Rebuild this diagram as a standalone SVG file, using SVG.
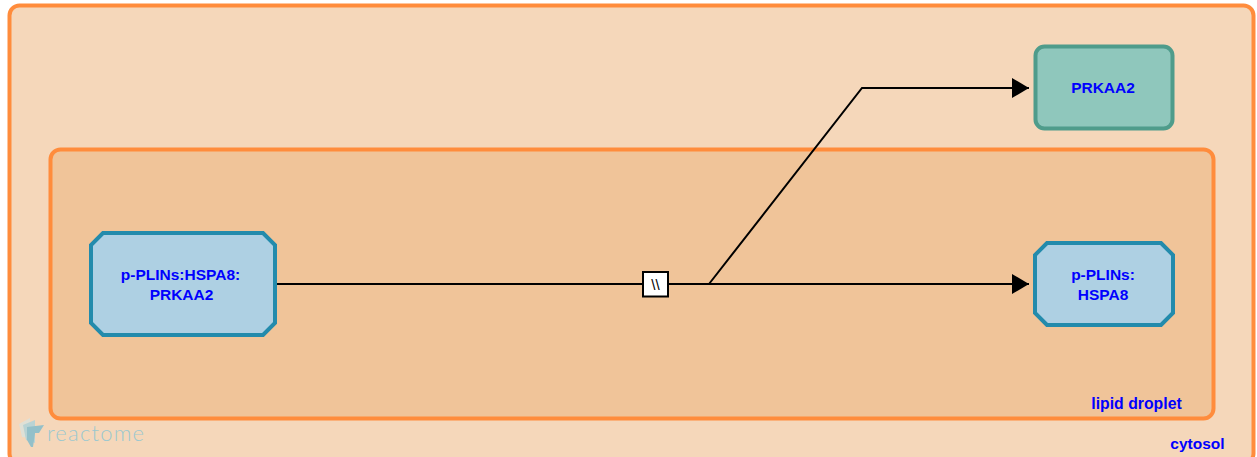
<svg xmlns="http://www.w3.org/2000/svg" width="1257" height="457" viewBox="0 0 1257 457">
<style>
text{font-family:"Liberation Sans",Arial,sans-serif;font-weight:700;font-size:15.5px;fill:#0000ff;text-anchor:middle}
.comp{stroke:#ff8c3c;stroke-width:4}
.cx{fill:#aed0e3;stroke:#238bac;stroke-width:4}
.conn{fill:none;stroke:#000;stroke-width:2}
</style>
<defs>
<marker id="arrow" markerUnits="userSpaceOnUse" markerWidth="18" markerHeight="20" refX="17" refY="10" orient="auto"><path d="M0 0L17 10L0 20Z" fill="#000"/></marker>
</defs>
<rect width="1257" height="457" fill="#fff"/>
<g id="cytosol">
<rect class="comp" x="9.500" y="5.500" width="1244" height="458" rx="10" fill="#f5d7ba"/>
<text x="1197.500" y="449">cytosol</text>
</g>
<g id="lipid-droplet">
<rect class="comp" x="50.500" y="149.500" width="1163" height="269" rx="10" fill="#f0c499"/>
<text x="1136.500" y="409" style="font-size:15.800px">lipid droplet</text>
</g>
<g id="logo">
<path d="M19 424L30 418V438L22 437Z" fill="#dfe0d6"/>
<path d="M23 425L35 420V443L26 440Z" fill="#b9d3d4"/>
<path d="M27 427L44 425L39 433H35L33 447H31L27 440Z" fill="#93c0c9"/>
<text x="47" y="440.500" style="font-family:'Lato',sans-serif;font-weight:300;font-size:22px;fill:#9cc8cf;letter-spacing:1.200px;text-anchor:start">reactome</text>
</g>
<g id="connectors">
<path class="conn" d="M277 284H643"/>
<path class="conn" d="M668 284H709"/>
<path class="conn" d="M709 284H1029" marker-end="url(#arrow)"/>
<path class="conn" d="M709 284L862 88H1029" marker-end="url(#arrow)"/>
<rect x="643" y="272" width="25" height="24.500" fill="#fff" stroke="#000" stroke-width="2"/>
<text x="655.500" y="290" style="font-size:15px;font-weight:400;fill:#000">\\</text>
</g>
<g id="node-plins-hspa8-prkaa2">
<path class="cx" d="M103 233H263L275 245V323L263 335H103L91 323V245Z"/>
<text x="180.500" y="280">p-PLINs:HSPA8:</text>
<text x="181.500" y="300">PRKAA2</text>
</g>
<g id="node-prkaa2">
<rect x="1035.500" y="46.500" width="137" height="82" rx="9" fill="#8fc7bc" stroke="#4f9c8b" stroke-width="4"/>
<text x="1103" y="93">PRKAA2</text>
</g>
<g id="node-plins-hspa8">
<path class="cx" d="M1047 243H1161L1173 255V313L1161 325H1047L1035 313V255Z"/>
<text x="1103" y="280">p-PLINs:</text>
<text x="1103" y="300">HSPA8</text>
</g>
</svg>
